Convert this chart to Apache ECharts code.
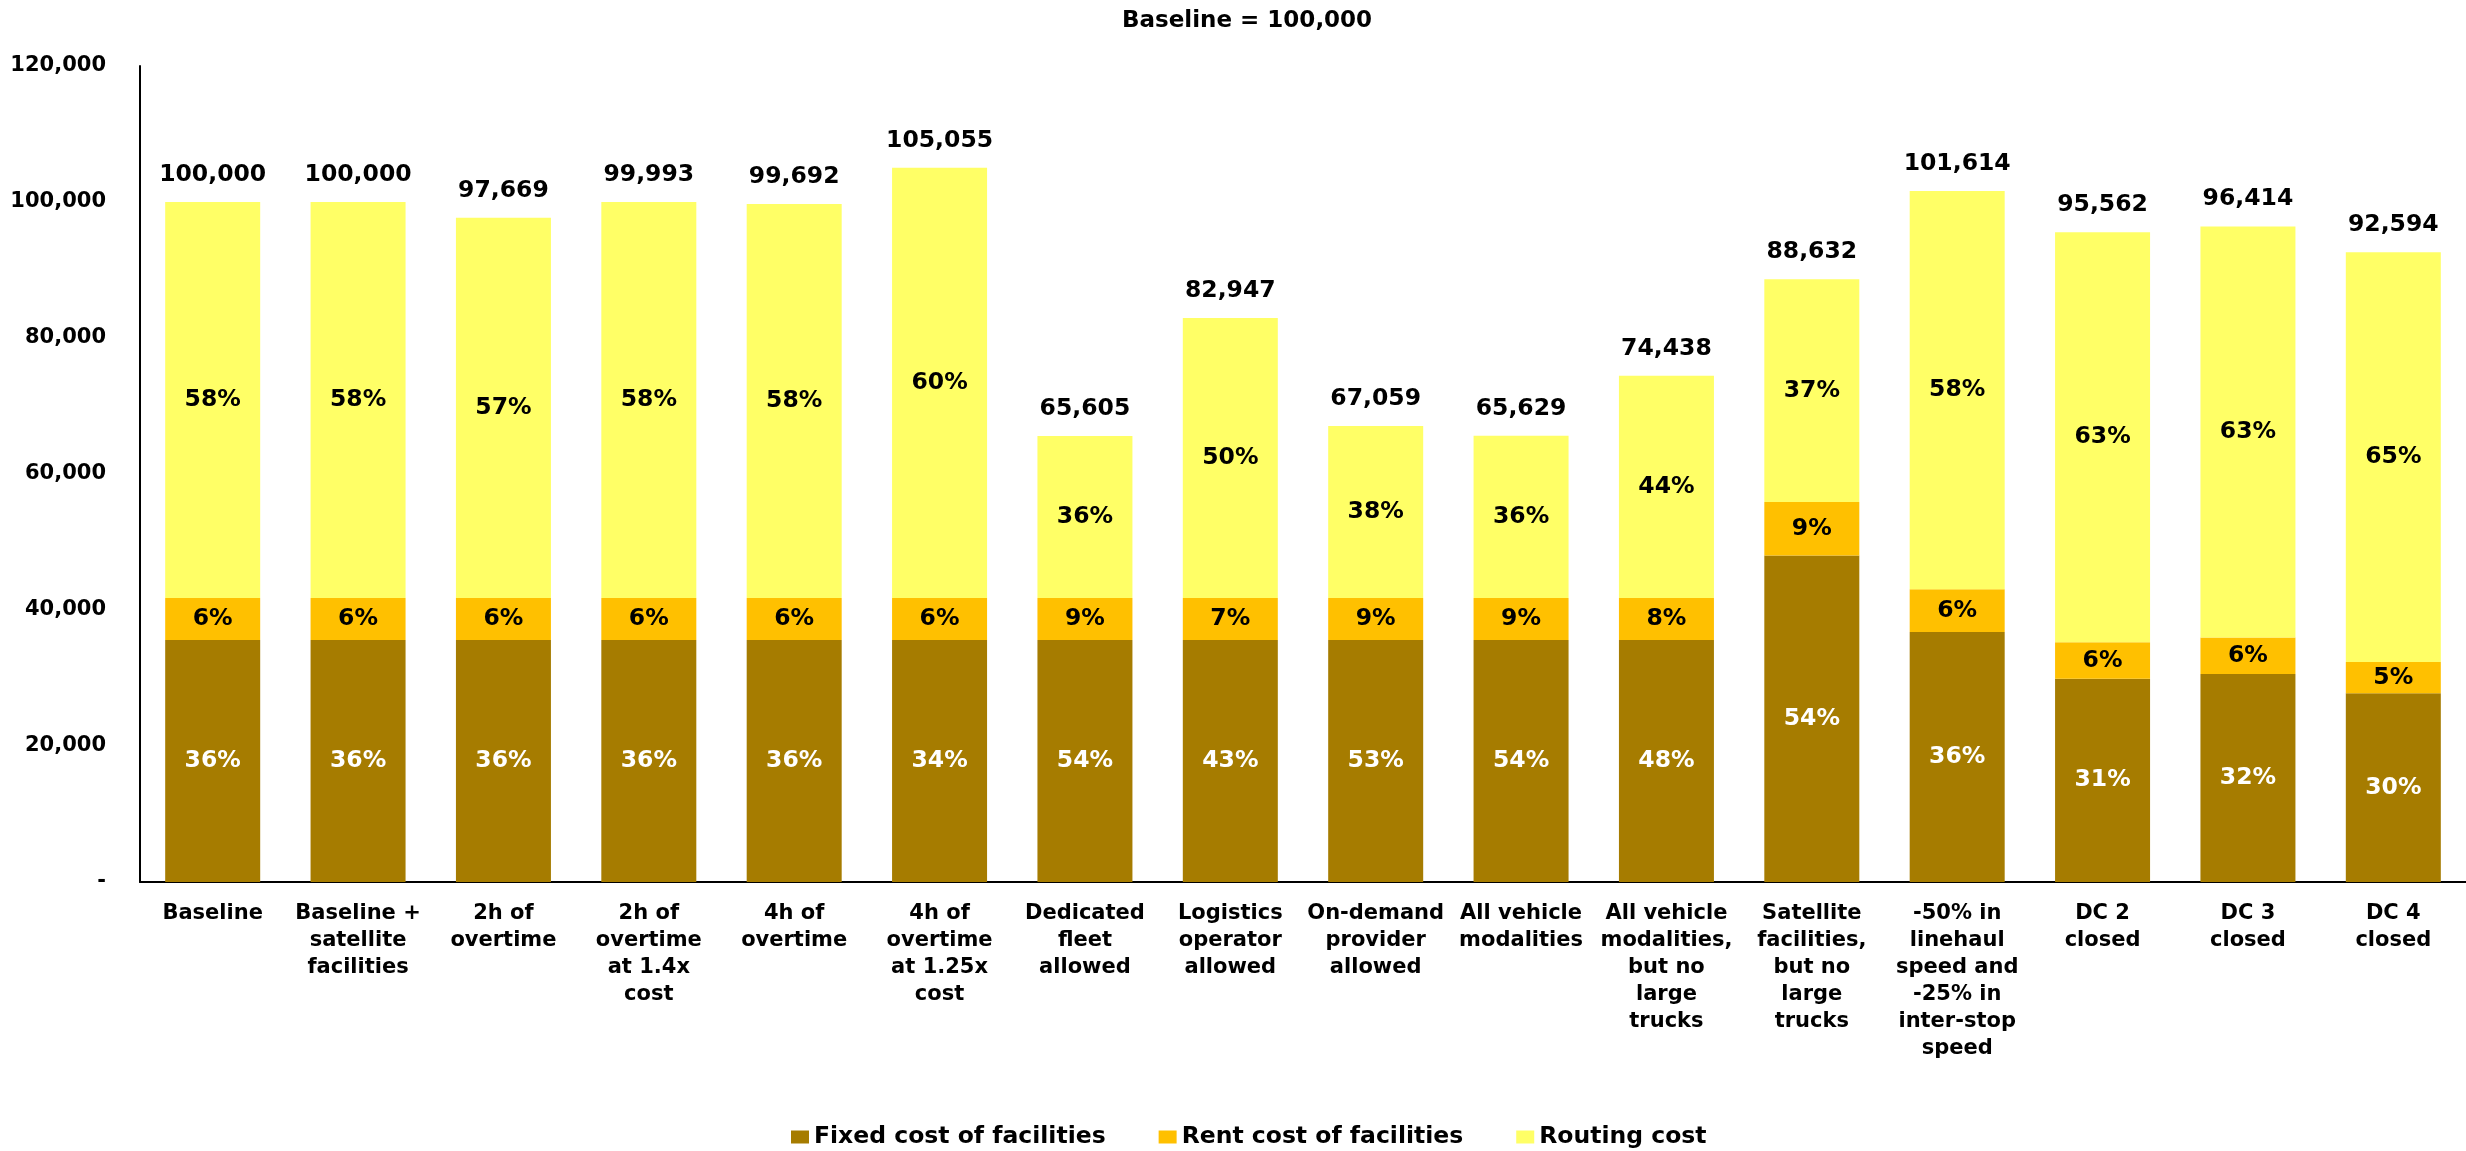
<!DOCTYPE html>
<html>
<head>
<meta charset="utf-8">
<script src="https://cdn.jsdelivr.net/npm/echarts@6/dist/echarts.min.js"></script>
<style>
  html, body { margin: 0; padding: 0; background: #fff; }
  #chart { width: 2466px; height: 1151px; }
</style>
</head>
<body>
<div id="chart"></div>
<script>
// Scenario names (line breaks as wrapped under each bar)
const categories = [
  'Baseline',
  'Baseline +\nsatellite\nfacilities',
  '2h of\novertime',
  '2h of\novertime\nat 1.4x\ncost',
  '4h of\novertime',
  '4h of\novertime\nat 1.25x\ncost',
  'Dedicated\nfleet\nallowed',
  'Logistics\noperator\nallowed',
  'On-demand\nprovider\nallowed',
  'All vehicle\nmodalities',
  'All vehicle\nmodalities,\nbut no\nlarge\ntrucks',
  'Satellite\nfacilities,\nbut no\nlarge\ntrucks',
  '-50% in\nlinehaul\nspeed and\n-25% in\ninter-stop\nspeed',
  'DC 2\nclosed',
  'DC 3\nclosed',
  'DC 4\nclosed'
];

// Cost components per scenario
const fixedCost = [35600, 35600, 35600, 35600, 35600, 35600, 35600, 35600, 35600, 35600, 35600, 48000, 36750, 29900, 30600, 27750];
const rentCost = [6150, 6150, 6150, 6150, 6150, 6150, 6150, 6150, 6150, 6150, 6150, 7900, 6300, 5350, 5350, 4600];
const routingCost = [58250, 58250, 55919, 58243, 57942, 63305, 23855, 41197, 25309, 23879, 32688, 32732, 58564, 60312, 60464, 60244];

const seriesNames = ['Fixed cost of facilities', 'Rent cost of facilities', 'Routing cost'];
const yTicks = { min: 0, max: 120000, interval: 20000 };

const totals = fixedCost.map((v, i) => v + rentCost[i] + routingCost[i]);
const fmtNum = v => v.toLocaleString('en-US');
const pct = (v, i) => Math.round(v / totals[i] * 100) + '%';

const FONT = 'DejaVu Sans';

function segment(name, data, color, labelColor) {
  return {
    name: name,
    type: 'bar',
    stack: 'cost',
    barWidth: 95,
    data: data,
    itemStyle: { color: color },
    label: {
      show: true,
      position: 'inside',
      color: labelColor,
      fontFamily: FONT,
      fontWeight: 'bold',
      fontSize: 23.5,
      formatter: p => pct(p.value, p.dataIndex)
    },
    emphasis: { disabled: true }
  };
}

const chart = echarts.init(document.getElementById('chart'));
chart.setOption({
  animation: false,
  backgroundColor: '#ffffff',
  title: {
    text: 'Baseline = 100,000',
    left: 1117,
    top: 5,
    textStyle: { fontFamily: FONT, fontWeight: 'bold', fontSize: 23, color: '#000' }
  },
  legend: {
    data: seriesNames,
    left: 786,
    top: 1120,
    itemWidth: 18,
    itemHeight: 13,
    itemGap: 53,
    icon: 'rect',
    textStyle: { fontFamily: FONT, fontWeight: 'bold', fontSize: 23.5, color: '#000' }
  },
  grid: { left: 140, right: -4, top: 66, bottom: 269, containLabel: false },
  xAxis: {
    type: 'category',
    data: categories,
    axisLine: { lineStyle: { color: '#000', width: 2 } },
    axisTick: { show: false },
    axisLabel: {
      interval: 0,
      margin: 18,
      fontFamily: FONT,
      fontWeight: 'bold',
      fontSize: 21,
      lineHeight: 27,
      color: '#000'
    }
  },
  yAxis: {
    type: 'value',
    min: yTicks.min,
    max: yTicks.max,
    interval: yTicks.interval,
    splitLine: { show: false },
    axisLine: { show: true, lineStyle: { color: '#000', width: 2 } },
    axisTick: { show: false },
    axisLabel: {
      margin: 34,
      fontFamily: FONT,
      fontWeight: 'bold',
      fontSize: 21,
      color: '#000',
      formatter: v => (v === 0 ? '-' : fmtNum(v))
    }
  },
  series: [
    segment(seriesNames[0], fixedCost, '#A67C00', '#ffffff'),
    segment(seriesNames[1], rentCost, '#FFC000', '#000000'),
    segment(seriesNames[2], routingCost, '#FFFF66', '#000000'),
    {
      // zero-height cap that carries the stack total above each bar
      name: 'Total',
      type: 'bar',
      stack: 'cost',
      barWidth: 95,
      data: totals.map(() => 0),
      itemStyle: { color: 'rgba(0,0,0,0)' },
      label: {
        show: true,
        position: 'top',
        distance: 15,
        color: '#000',
        fontFamily: FONT,
        fontWeight: 'bold',
        fontSize: 23.5,
        formatter: p => fmtNum(totals[p.dataIndex])
      },
      emphasis: { disabled: true }
    }
  ]
});
</script>
</body>
</html>
